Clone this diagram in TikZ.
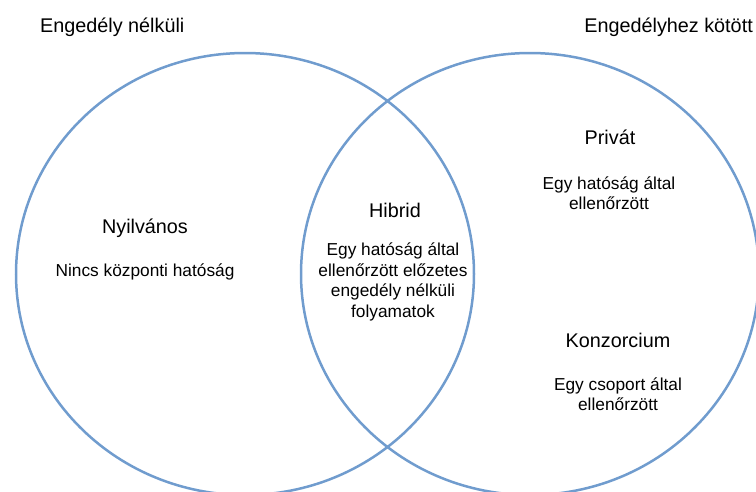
\documentclass[tikz,border=0pt]{standalone}
\usepackage{fontspec}
\setmainfont{Liberation Sans}
\usetikzlibrary{positioning}
\definecolor{vennblue}{RGB}{112,156,206}

\begin{document}
\begin{tikzpicture}[x=1pt,y=-1pt,
  ring/.style={draw=vennblue, line width=2.5pt},
  head/.style={font=\fontsize{19.8}{23}\selectfont},
  body/.style={font=\fontsize{17.3}{20.5}\selectfont, align=center}]
\useasboundingbox (0,0) rectangle (756,491);
\clip (0,0) rectangle (756,491);

% Two overlapping sets
\draw[ring] (245,274) ellipse [x radius=229pt, y radius=221pt];
\draw[ring] (530,274) ellipse [x radius=229pt, y radius=221pt];

% Set titles
\node[head, inner sep=0pt, anchor=base west] (free) at (40,32) {Engedély nélküli};
\node[head, inner sep=0pt, anchor=base east] (perm) at (753,32) {Engedélyhez kötött};

% Left part
\node[head] (public) at (145,228) {Nyilvános};
\node[body] (publictxt) at (145,272) {Nincs központi hatóság};

% Overlap
\node[head] (hybrid) at (395,210) {Hibrid};
\node[body] (hybridtxt) at (393,282) {Egy hatóság által\\ellenőrzött előzetes\\engedély nélküli\\folyamatok};

% Right part
\node[head] (private) at (610,137) {Privát};
\node[body] (privatetxt) at (609,193) {Egy hatóság által\\ellenőrzött};
\node[head] (consort) at (618,340) {Konzorcium};
\node[body] (consorttxt) at (618,394) {Egy csoport által\\ellenőrzött};

\end{tikzpicture}
\end{document}
